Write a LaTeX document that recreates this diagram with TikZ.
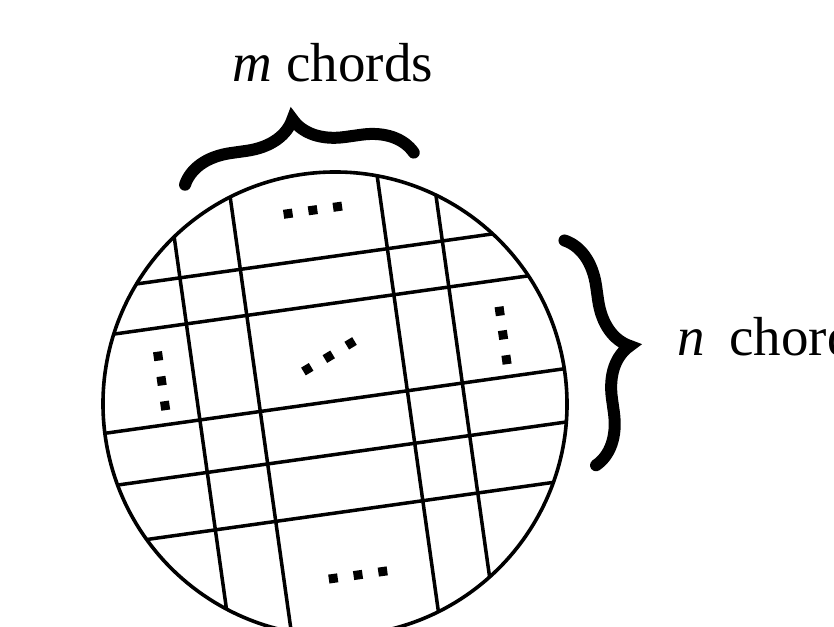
\documentclass[tikz,border=0pt]{standalone}
\usepackage{fontspec}
\setmainfont{Liberation Serif}
\usetikzlibrary{decorations.pathreplacing}

\begin{document}
\begin{tikzpicture}[
    x=1pt, y=1pt,
    chord/.style={line width=3.5pt},
    rim/.style={line width=3.6pt},
    bigbrace/.style={decorate, decoration={brace, amplitude=50pt}, line width=12pt, line cap=round},
    dotsq/.style={fill=black},
    lbl/.style={font=\fontsize{55}{64}\selectfont, inner sep=0pt}
]
\useasboundingbox (-335,-222) rectangle (499,404);
\begin{scope}[rotate=8]
  \begin{scope}
    \clip (0,0) circle (232);
    \foreach \v in {146.5,100,3,-50,-108} \draw[chord] (-250,\v) -- (250,\v);
    \foreach \u in {-136,-75,73.5,129} \draw[chord] (\u,-250) -- (\u,250);
  \end{scope}
  \draw[rim] (0,0) circle (232);
  % dots between the chords
  \foreach \u in {-20,5,30} \fill[dotsq] (\u,195) +(-4.5,-4.5) rectangle +(4.5,4.5);
  \foreach \u in {-26,-1,24} \fill[dotsq] (\u,-172.5) +(-4.5,-4.5) rectangle +(4.5,4.5);
  \foreach \v in {72,47,22} \fill[dotsq] (-168.5,\v) +(-4.5,-4.5) rectangle +(4.5,4.5);
  \foreach \v in {69,45,20} \fill[dotsq] (176,\v) +(-4.5,-4.5) rectangle +(4.5,4.5);
  \foreach \u/\v in {-22.6/38.3,0.4/47.7,23.9/57.9}
    \fill[dotsq, shift={(\u,\v)}, rotate=23] (-4.5,-4.5) rectangle (4.5,4.5);
  % braces
  \draw[bigbrace] (-118,238) -- (113,238);
  \draw[bigbrace] (250,130) -- (250,-97);
\end{scope}
\node[lbl, anchor=base] (mlabel) at (-2,322) {\textit{m} chords};
\node[lbl, anchor=base west] (nlabel) at (342,49) {\textit{n}\hspace{0.45em}chords};
\end{tikzpicture}
\end{document}
